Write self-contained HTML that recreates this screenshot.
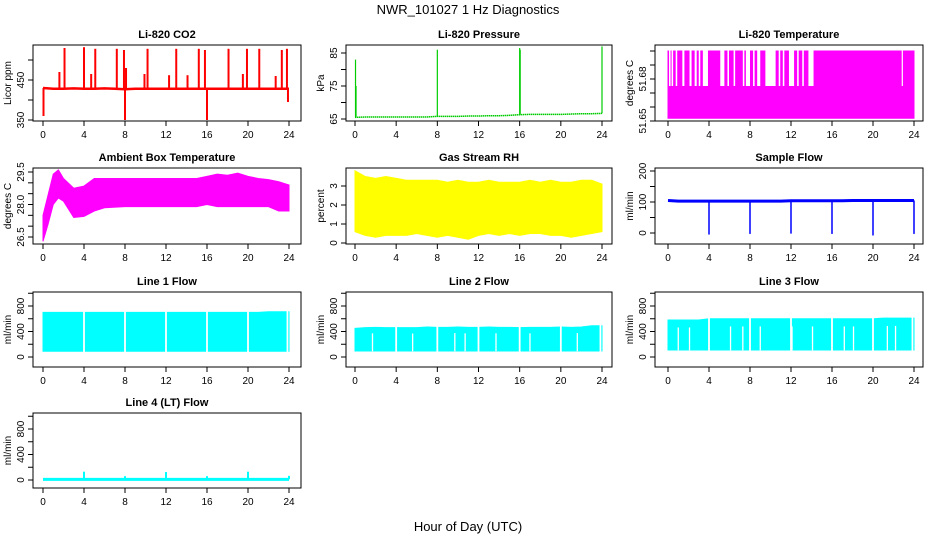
<!DOCTYPE html>
<html><head><meta charset="utf-8">
<style>
html,body{margin:0;padding:0;background:#fff;}
svg{display:block;font-family:"Liberation Sans",Arial,sans-serif;}
</style></head>
<body>
<svg id="chart" width="936" height="540" viewBox="0 0 936 540">
<text x="468" y="14" text-anchor="middle" font-size="13">NWR_101027  1 Hz Diagnostics</text>
<text x="468" y="531" text-anchor="middle" font-size="13">Hour of Day (UTC)</text>
</svg>
<script>
// ---- data ----
const xTicks = [0,4,8,12,16,20,24];
const co2Base = [430,428,428,429,428,428,429,428,427,428,428,428,428,428,428,428,428,428,428,428,428,428,428,428,428];
const co2SpikeT = [2.1,4.0,5.1,7.2,7.9,10.2,13.0,15.2,15.8,18.1,19.9,21.1,23.3,23.8,1.6,4.7,8.1,9.9,12.3,14.1,19.5,22.7,0.05,8.0,16.0,23.9];
const co2SpikeV = [530,532,528,528,525,528,528,528,525,528,528,528,525,528,470,465,480,465,462,462,465,460,360,345,350,395];
const presBase = [65.5,65.6,65.6,65.6,65.6,65.6,65.6,65.6,65.8,65.8,65.8,65.9,65.9,66,66,66.1,66.3,66.4,66.4,66.4,66.4,66.5,66.6,66.6,66.7];
const presSpikeT = [0.05,0.1,8.0,16.0,16.05,24.0];
const presSpikeV = [83,75,86,86.5,86,87];
const tempLow = 51.652, tempMid = 51.675, tempHigh = 51.700;
const tempGapStart = [0.1,0.35,0.75,1.4,2.1,2.6,3.0,3.4,5.1,5.8,6.4,7.3,7.6,8.3,8.7,9.5,10.8,11.2,11.8,12.6,13.1,13.7,22.8];
const tempGapEnd   = [0.25,0.5,0.9,1.6,2.3,2.8,3.15,3.9,5.5,5.95,6.55,7.45,8.0,8.45,9.0,10.5,10.95,11.35,12.3,12.75,13.25,14.2,22.9];
const ambT  = [0,0.5,1,1.5,2,3,4,5,6,8,10,12,14,15,16,17,18,19,20,21,22,23,24];
const ambHi = [27.5,28.45,29.4,29.6,29.2,28.75,28.85,29.2,29.2,29.2,29.2,29.2,29.2,29.2,29.3,29.4,29.35,29.45,29.3,29.2,29.15,29.05,28.9];
const ambLo = [26.3,27.1,28.0,28.3,28.15,27.4,27.45,27.7,27.85,27.9,27.9,27.9,27.9,27.9,28.0,27.9,27.9,27.9,27.9,27.9,27.9,27.7,27.7];
const rhHi = [3.8,3.5,3.4,3.5,3.4,3.3,3.3,3.3,3.3,3.2,3.3,3.2,3.2,3.3,3.2,3.2,3.2,3.3,3.2,3.3,3.2,3.2,3.3,3.3,3.1];
const rhLo = [0.6,0.4,0.3,0.4,0.4,0.4,0.5,0.4,0.3,0.4,0.3,0.2,0.4,0.5,0.4,0.5,0.4,0.5,0.5,0.4,0.4,0.3,0.4,0.5,0.6];
const sfBase = [105,103,103,103,103,103,103,103,103,103,103,103,104,104,104,104,104,104,105,105,105,105,105,105,105];
const sfDipT = [4,8,12,16,20,24];
const sfDipV = [-5,-3,-2,-3,-8,-3];
const l1Hi = [700,700,700,700,700,700,700,700,700,700,700,700,700,700,700,700,700,700,700,700,700,700,710,710,710];
const l1Lo = [90,90,90,90,90,90,90,90,90,90,90,90,90,90,90,90,90,90,90,90,90,90,90,90,90];
const l1Gaps = [4,8,12,16,20,23.85];
const l2Hi = [450,460,465,460,460,460,460,470,465,465,470,465,465,470,465,465,460,465,465,465,470,465,470,490,490];
const l2Lo = [95,95,95,95,95,95,95,95,95,95,95,95,95,95,95,95,95,95,95,95,95,95,95,95,95];
const l2Gaps = [4,8,12,16,20,23.85];
const l2Part = [1.7,5.6,9.7,10.7,13.7,17.0,21.6];
const l3Hi = [580,580,580,580,600,600,600,600,600,600,600,600,600,600,600,600,600,600,600,600,600,610,610,610,610];
const l3Lo = [110,110,110,110,110,110,110,110,110,110,110,110,110,110,110,110,110,110,110,110,110,110,110,110,110];
const l3Gaps = [4,8,12,16,20,23.85];
const l3Part = [1.0,2.1,6.1,7.3,9.0,12.1,14.1,17.2,18.1,21.4,22.2];
const l4Base = 10;
const l4SpikeT = [4,8,12,16,20,24];
const l4SpikeV = [130,60,125,60,130,65];

// ---- layout ----
const NS = "http://www.w3.org/2000/svg";
const svg = document.getElementById('chart');
const cols = [[33,301,43,289],[346,612,355,602],[655,923,668,914]];
const rows = [[45,121],[168,244],[292,367],[413,488]];
function mk(tag, attrs, parent){
  const e = document.createElementNS(NS, tag);
  for (const k in attrs) e.setAttribute(k, attrs[k]);
  (parent||svg).appendChild(e);
  return e;
}
function panel(name, title, ytitle, c, r, yv0, yp0, yv1, yp1, yticks, ylabels){
  const [bl, br, x0, x24] = cols[c];
  const [bt, bb] = rows[r];
  const g = mk('g', {});
  
  
  const xs = t => x0 + (x24 - x0) * t / 24;
  const ys = v => yp0 + (yp1 - yp0) * (v - yv0) / (yv1 - yv0);
  const plot = mk('g', {'clip-path': 'url(#clip' + c + r + ')'}, g);
  
  
  const cp = mk('clipPath', {id: 'clip' + c + r}, g);
  mk('rect', {x: bl + 1, y: bt + 1, width: br - bl - 2, height: bb - bt - 2}, cp);
  const box = mk('rect', {x: bl, y: bt, width: br - bl, height: bb - bt, fill: 'none', stroke: '#000', 'stroke-width': 1}, g);
  
  
  const t = mk('text', {x: (bl + br) / 2, y: bt - 7, 'text-anchor': 'middle', 'font-size': 11, 'font-weight': 'bold'}, g);
  t.textContent = title;
  
  
  xTicks.forEach(v => {
    mk('line', {x1: xs(v), x2: xs(v), y1: bb, y2: bb + 5, stroke: '#000'}, g);
    const l = mk('text', {x: xs(v), y: bb + 17, 'text-anchor': 'middle', 'font-size': 10}, g);
    l.textContent = v;
    
    
  });
  yticks.forEach(v => {
    mk('line', {x1: bl - 5, x2: bl, y1: ys(v), y2: ys(v), stroke: '#000'}, g);
  });
  ylabels.forEach(v => {
    const l = mk('text', {x: 0, y: 0, 'text-anchor': 'middle', 'font-size': 10,
      transform: 'translate(' + (bl - 9) + ',' + ys(v) + ') rotate(-90)'}, g);
    l.textContent = v;
    
    
  });
  const yt = mk('text', {x: 0, y: 0, 'text-anchor': 'middle', 'font-size': 10,
    transform: 'translate(' + (bl - 22) + ',' + ((bt + bb) / 2) + ') rotate(-90)'}, g);
  yt.textContent = ytitle;
  
  
  return {xs, ys, plot};
}
function hourPath(arr, xs, ys){ return arr.map((v,i)=> (i?'L':'M') + xs(i) + ',' + ys(v)).join(''); }
function band(p, ts, hi, lo, color){
  let d = ts.map((t,i)=>(i?'L':'M')+p.xs(t)+','+p.ys(hi[i])).join('');
  for (let i = ts.length-1; i >= 0; i--) d += 'L'+p.xs(ts[i])+','+p.ys(lo[i]);
  const e = mk('path', {d: d + 'Z', fill: color, stroke: color, 'stroke-width': 1}, p.plot);
  
  
}
function vline(p, t, v0, v1, color, w){
  const e = mk('line', {x1: p.xs(t), x2: p.xs(t), y1: p.ys(v0), y2: p.ys(v1), stroke: color, 'stroke-width': w||1.5}, p.plot);
  
  
}
const hours = co2Base.map((_,i)=>i);

// CO2
let p = panel('co2','Li-820 CO2','Licor ppm',0,0,350,120,450,80,[350,400,450,500],[350,450]);
let e = mk('path',{d:hourPath(co2Base,p.xs,p.ys),fill:'none',stroke:'#f00','stroke-width':2.5},p.plot);
 
co2SpikeT.forEach((t,i)=>vline(p,t,co2Base[Math.round(t)],co2SpikeV[i],'#f00',2));

// Pressure
p = panel('pressure','Li-820 Pressure','kPa',1,0,65,119,85,53,[65,70,75,80,85],[65,75,85]);
e = mk('path',{d:hourPath(presBase,p.xs,p.ys),fill:'none',stroke:'#0c0','stroke-width':1.5,'stroke-dasharray':'1.5,0.5'},p.plot);
 
presSpikeT.forEach((t,i)=>vline(p,t,presBase[Math.round(t)],presSpikeV[i],'#0c0',1.2));

// Li-820 Temperature
p = panel('li820-temp','Li-820 Temperature','degrees C',2,0,51.65,121,51.68,79,[51.65,51.66,51.67,51.68,51.69,51.70],['51.65','51.68']);
band(p,[0,24],[tempHigh,tempHigh],[tempLow,tempLow],'#f0f');
tempGapStart.forEach((s,i)=>{
  const r = mk('rect',{x:p.xs(s),y:p.ys(tempHigh)-2,width:Math.max(1.2,p.xs(tempGapEnd[i])-p.xs(s)),height:p.ys(tempMid)-p.ys(tempHigh)+2,fill:'#fff'},p.plot);
   
});

// Ambient
p = panel('ambient','Ambient Box Temperature','degrees C',0,1,26.5,237,29.5,172,[26.5,27,27.5,28,28.5,29,29.5],['26.5','28.0','29.5']);
band(p,ambT,ambHi,ambLo,'#f0f');

// RH
p = panel('rh','Gas Stream RH','percent',1,1,0,243,3,186,[0,1,2,3],[0,1,2,3]);
band(p,hours,rhHi,rhLo,'#ff0');

// Sample flow
p = panel('sample-flow','Sample Flow','ml/min',2,1,0,233,200,171,[0,50,100,150,200],[0,100,200]);
e = mk('path',{d:hourPath(sfBase,p.xs,p.ys),fill:'none',stroke:'#00f','stroke-width':3},p.plot);
 
sfDipT.forEach((t,i)=>vline(p,t,sfBase[Math.min(24,t)],sfDipV[i],'#00f',1.5));

// Line flows
const lfTicks=[0,200,400,600,800,1000], lfLabels=[0,400,800];
function lineFlow(name,title,c,r,hi,lo,gaps,part){
  const zero = r===2 ? 357 : 480;
  const q = panel(name,title,'ml/min',c,r,0,zero,800,zero-51,lfTicks,lfLabels);
  band(q,hours,hi,lo,'#0ff');
  gaps.forEach(t=>vline(q,t,-100,1000,'#fff',1.8));
  (part||[]).forEach(t=>vline(q,t,lo[Math.round(t)]-5,hi[Math.round(t)]*0.8,'#fff',1.3));
  return q;
}
lineFlow('line1-flow','Line 1 Flow',0,2,l1Hi,l1Lo,l1Gaps);
lineFlow('line2-flow','Line 2 Flow',1,2,l2Hi,l2Lo,l2Gaps,l2Part);
lineFlow('line3-flow','Line 3 Flow',2,2,l3Hi,l3Lo,l3Gaps,l3Part);
p = panel('line4-flow','Line 4 (LT) Flow','ml/min',0,3,0,480,800,429,lfTicks,lfLabels);
e = mk('line',{x1:p.xs(0),x2:p.xs(24),y1:p.ys(l4Base),y2:p.ys(l4Base),stroke:'#0ff','stroke-width':3},p.plot);
 
l4SpikeT.forEach((t,i)=>vline(p,t,l4Base,l4SpikeV[i],'#0ff',2));
</script>
</body></html>
